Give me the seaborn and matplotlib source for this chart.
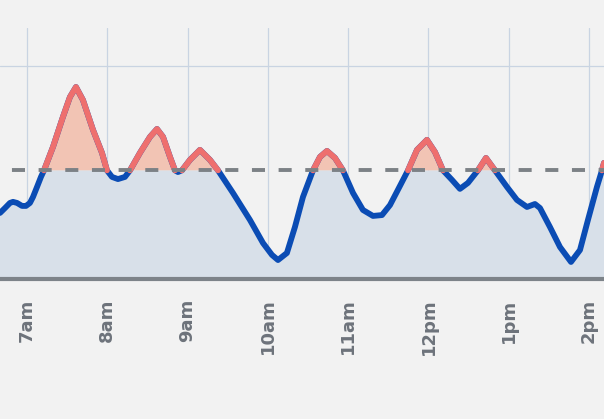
import numpy as np
import pandas as pd
import matplotlib
matplotlib.use("Agg")
import matplotlib.pyplot as plt
import seaborn as sns

# ---- data ----
hours = [6.664, 6.726, 6.788, 6.826, 6.876, 6.938, 6.988, 7.037, 7.075, 7.125,
         7.174, 7.212, 7.324, 7.448, 7.535, 7.610, 7.697, 7.822, 7.934, 7.996,
         8.059, 8.133, 8.220, 8.283, 8.407, 8.532, 8.619, 8.694, 8.781, 8.843,
         8.880, 8.930, 9.030, 9.154, 9.279, 9.379, 9.565, 9.777, 9.939, 10.051,
         10.126, 10.237, 10.337, 10.437, 10.562, 10.649, 10.736, 10.836, 10.935, 11.060,
         11.184, 11.309, 11.421, 11.521, 11.645, 11.745, 11.857, 11.981, 12.081, 12.181,
         12.293, 12.392, 12.492, 12.616, 12.716, 12.828, 12.978, 13.102, 13.227, 13.326,
         13.389, 13.513, 13.638, 13.775, 13.887, 13.986, 14.098, 14.161, 14.186]
values = [31.0, 33.3, 35.7, 36.2, 35.7, 34.3, 34.3, 35.7, 38.5, 43.2,
          47.9, 51.0, 62.0, 76.1, 85.4, 90.1, 84.0, 70.0, 59.2, 51.0,
          47.9, 46.9, 47.9, 51.0, 59.2, 66.7, 70.4, 66.7, 57.3, 51.0,
          50.2, 51.0, 55.9, 60.6, 55.9, 51.0, 40.4, 27.7, 16.9, 11.3,
          8.9, 12.2, 24.4, 38.5, 51.0, 57.3, 60.1, 56.8, 51.0, 40.4,
          32.4, 29.6, 30.0, 34.7, 43.7, 51.0, 60.6, 65.3, 59.6, 51.0,
          46.5, 42.3, 45.1, 51.0, 56.8, 51.0, 43.2, 37.1, 33.8, 35.2,
          33.3, 24.4, 15.0, 8.0, 13.6, 27.7, 43.2, 51.0, 54.5]
threshold = 51.0
tick_hours = [7, 8, 9, 10, 11, 12, 13, 14]
tick_labels = ["7am", "8am", "9am", "10am", "11am", "12pm", "1pm", "2pm"]
assert len(hours) == len(values)

# ---- styling ----
BG = "#f2f2f2"
BLUE = "#0b4cb4"
RED = "#ee6f6e"
FILL_BELOW = "#d8e0e9"
FILL_ABOVE = "#f2c4b4"
GRID = "#c9d4e2"
DASH = "#7c8186"
BASE = "#7d8389"
LABEL = "#6d737b"

sns.set_theme(style="white")
plt.rcParams["lines.scale_dashes"] = False

x = np.array(hours)
y = np.array(values)

df = pd.DataFrame({"hour": x, "value": y})
above = y >= threshold
seg = np.cumsum(np.r_[True, above[1:] != above[:-1]])
df["seg"] = seg
df_red = df[above].copy()

fig = plt.figure(figsize=(6.04, 4.19), dpi=100, facecolor=BG)
ax = fig.add_axes([0, 1 - 279 / 419, 1, (279 - 28) / 419])
ax.set_facecolor(BG)

ax.set_xlim(6.664, 14.186)
ax.set_ylim(0, 117.8)

# grid
for h in tick_hours:
    ax.axvline(h, color=GRID, lw=0.9, zorder=0)
ax.axhline(100, color=GRID, lw=0.9, zorder=0)

# fills
ax.fill_between(x, 0, np.minimum(y, threshold), color=FILL_BELOW, lw=0, zorder=1)
ax.fill_between(x, threshold, y, where=y >= threshold, interpolate=True,
                color=FILL_ABOVE, lw=0, zorder=1)

# lines
sns.lineplot(data=df, x="hour", y="value", ax=ax, color=BLUE, lw=4.2,
             solid_joinstyle="round", solid_capstyle="round", zorder=3, sort=True)
sns.lineplot(data=df_red, x="hour", y="value", units="seg", estimator=None, ax=ax,
             color=RED, lw=4.2, solid_joinstyle="round", solid_capstyle="round",
             zorder=4, sort=True)

# threshold dashed line
ax.axhline(threshold, color=DASH, lw=2.8, zorder=5,
           linestyle=(10.6, (9.4, 9.8)))

# baseline
ax.axhline(0, color=BASE, lw=3.0, zorder=6, clip_on=False)

for s in ax.spines.values():
    s.set_visible(False)

ax.set_xticks(tick_hours)
ax.set_xticklabels(tick_labels, rotation=90, fontsize=13, fontweight="bold",
                   color=LABEL)
ax.tick_params(axis="x", length=0, pad=14)
ax.set_yticks([])
ax.set_xlabel("")
ax.set_ylabel("")
ax.grid(False)
legend = ax.get_legend()
if legend is not None:
    legend.remove()

fig.savefig("out.png", dpi=100, facecolor=BG)
